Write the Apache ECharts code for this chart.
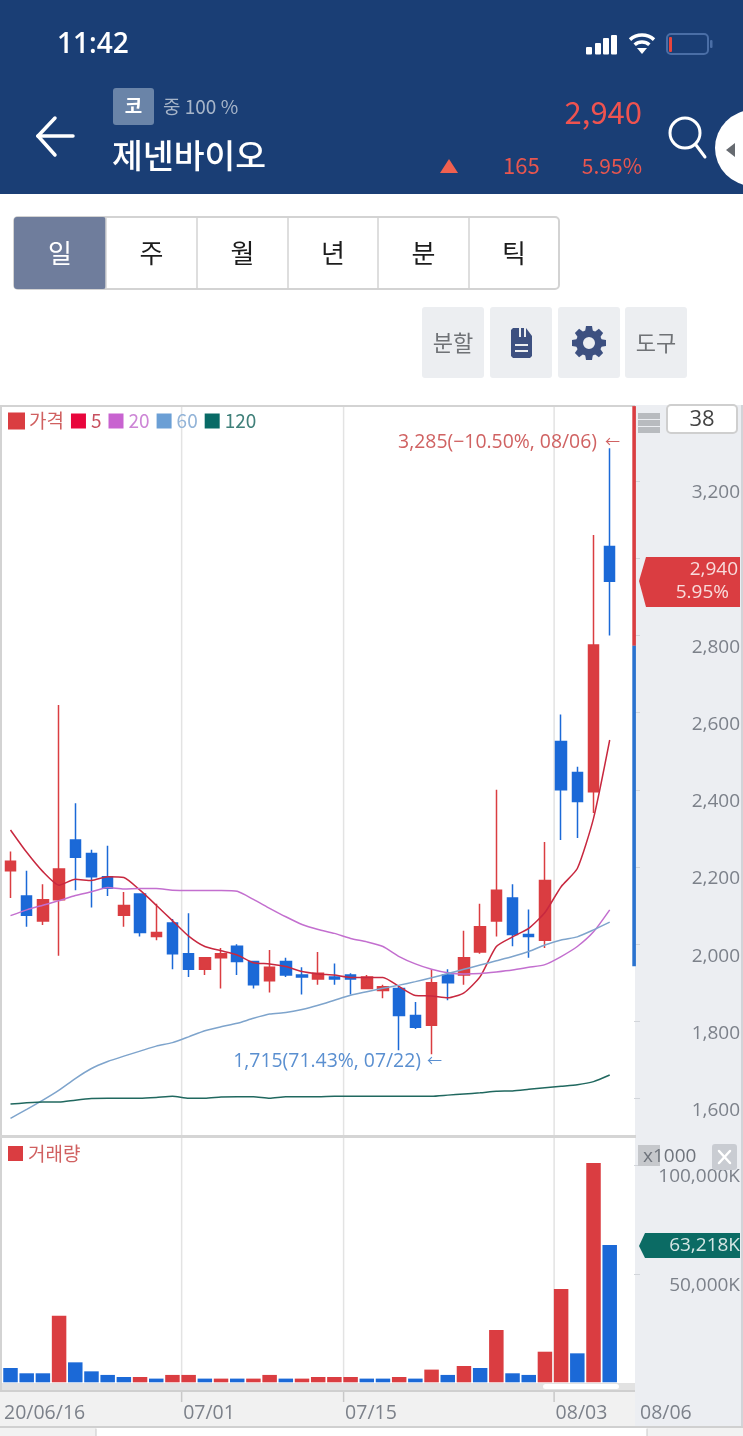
<!DOCTYPE html>
<html>
<head>
<meta charset="utf-8">
<title>제넨바이오</title>
<script src="https://cdn.jsdelivr.net/npm/echarts@6/dist/echarts.min.js"></script>
<style>
html,body{margin:0;padding:0;background:#fff;}
#chart{width:743px;height:1436px;}
</style>
</head>
<body>
<div id="chart"></div>
<script>
// last slot is empty, the app keeps a gap right of the newest candle
var categories = ['06/16','06/17','06/18','06/19','06/22','06/23','06/24','06/25','06/26','06/29','06/30',
	'07/01','07/02','07/03','07/06','07/07','07/08','07/09','07/10','07/13','07/14',
	'07/15','07/16','07/17','07/20','07/21','07/22','07/23','07/24','07/27','07/28','07/29','07/30','07/31',
	'08/03','08/04','08/05','08/06',''];

var opens  = [2190,2125,2060,2115,2270,2235,2175,2075,2130,2020,2055,1975,1935,1965,1995,1955,1905,1955,1920,1910,
	1915,1920,1885,1880,1885,1815,1790,1920,1920,1980,2060,2120,2025,2010,2525,2445,2395,3030];
var closes = [2215,2075,2115,2195,2225,2175,2145,2100,2030,2030,1975,1935,1965,1975,1955,1895,1940,1920,1915,1925,
	1910,1910,1915,1890,1815,1785,1900,1900,1965,2045,2140,2025,2020,2165,2400,2370,2775,2940];
var lows   = [2120,2045,2050,1970,2140,2095,2125,2045,2020,2010,1935,1915,1920,1885,1920,1885,1875,1915,1870,1895,
	1895,1870,1885,1860,1725,1780,1715,1855,1895,1975,2020,1995,1965,1990,2270,2275,2340,2800];
var highs  = [2240,2190,2155,2620,2365,2245,2255,2135,2130,2105,2065,2080,1965,1990,2000,1955,1985,1965,1940,1980,
	1950,1925,1920,1895,1890,1850,1935,1935,2035,2105,2400,2155,2090,2265,2595,2460,3060,3285];

var ma5   = [2296,2238,2188,2153,2168,2165,2175,2173,2140,2101,2061,2021,1994,1983,1972,1952,1949,1942,1929,1923,
	1920,1914,1914,1914,1890,1867,1866,1861,1874,1916,1994,2019,2041,2082,2149,2196,2326,2529];
var ma20  = [2074,2089,2101,2113,2126,2136,2147,2143,2144,2144,2140,2139,2139,2139,2137,2116,2093,2071,2051,2038,
	2028,2015,2006,1994,1968,1949,1935,1926,1923,1924,1928,1933,1940,1947,1968,1994,2032,2089];
var ma60  = [1549,1572,1596,1622,1652,1678,1696,1710,1723,1736,1745,1760,1776,1786,1795,1808,1819,1823,1831,1842,
	1855,1868,1877,1886,1894,1903,1913,1924,1935,1946,1957,1968,1981,1998,2011,2019,2037,2057];
var ma120 = [1586,1589,1591,1591,1596,1600,1601,1601,1601,1603,1606,1601,1601,1604,1605,1605,1601,1605,1605,1605,
	1606,1606,1606,1606,1606,1606,1606,1609,1612,1615,1619,1620,1624,1628,1632,1636,1644,1661];

var volumes  = [6600,4150,4150,30700,9200,5050,3400,2450,2450,1700,3400,3400,1700,1700,1700,1700,3400,1700,1700,2450,
	2450,2450,1700,1700,2450,1700,5850,3400,7500,6600,24100,4150,3400,14100,43000,13350,101050,63218];
var volumeUp = [0,0,0,1,0,0,0,0,1,0,1,1,0,1,0,1,1,0,1,1,
	1,1,0,0,1,0,1,0,1,0,1,0,0,1,1,0,1,0];

var priceTicks = [1600,1800,2000,2200,2400,2600,2800,3000,3200];
var priceLabelTicks = [1600,1800,2000,2200,2400,2600,2800,3200];
var volumeTicks = [50000,100000];
var dateTickIndex = [0,11,21,34,37];
var dateTickLabels = ['20/06/16','07/01','07/15','08/03','08/06'];
var rangeBars = [[38,3394,2773],[38,2773,1943]];
var tabs = ['일','주','월','년','분','틱'];

var UP = '#da3d41', DOWN = '#1b69d7';
var KR = '"Noto Sans CJK KR","Noto Sans",sans-serif';
var NUM = '"Open Sans","Noto Sans CJK KR",sans-serif';
var AXIS_TEXT = '#7c818a';

function comma(v) {
	return String(v).replace(/\B(?=(\d{3})+$)/g, ',');
}

function box(x, y, w, h, fill, r, z, stroke) {
	return {
		type: 'rect', silent: true, z: z === undefined ? 50 : z,
		shape: {x: x, y: y, width: w, height: h, r: r || 0},
		style: {fill: fill, stroke: stroke || null, lineWidth: stroke ? 2 : 0}
	};
}
function txt(s, x, y, size, color, align, family, weight) {
	return {
		type: 'text', silent: true, z: 51, x: x, y: family === NUM ? y + 2 : y,
		style: {
			text: s, fill: color, fontSize: size, fontFamily: family || KR, fontWeight: weight || 400,
			align: align || 'left', verticalAlign: 'middle', textAlign: align || 'left', textVerticalAlign: 'middle'
		}
	};
}
function line(x1, y1, x2, y2, color, w, z) {
	return {
		type: 'line', silent: true, z: z === undefined ? 50 : z,
		shape: {x1: x1, y1: y1, x2: x2, y2: y2},
		style: {stroke: color, lineWidth: w, lineCap: 'round'}
	};
}
function poly(points, fill, z) {
	return {type: 'polygon', silent: true, z: z === undefined ? 50 : z, shape: {points: points}, style: {fill: fill}};
}
function ring(cx, cy, r, fill, stroke, w, z) {
	return {
		type: 'circle', silent: true, z: z === undefined ? 50 : z,
		shape: {cx: cx, cy: cy, r: r},
		style: {fill: fill, stroke: stroke, lineWidth: w || 0}
	};
}

var els = [];

// header
els.push(box(0, 0, 743, 194, '#1a3e75', 0, -1));
els.push(txt('11:42', 57, 43, 28, '#ffffff', 'left', NUM, 600));
[[586,47],[595,43],[603,38],[611,35]].forEach(function (b) {
	els.push(box(b[0], b[1], 6, 54.5 - b[1], '#ffffff', 1));
});
els.push({type: 'arc', silent: true, z: 50, shape: {cx: 642, cy: 53, r: 18, startAngle: -2.3, endAngle: -0.84}, style: {fill: null, stroke: '#fff', lineWidth: 3.5}});
els.push({type: 'arc', silent: true, z: 50, shape: {cx: 642, cy: 53, r: 11, startAngle: -2.3, endAngle: -0.84}, style: {fill: null, stroke: '#fff', lineWidth: 3.5}});
els.push(poly([[642,54],[637,48],[647,48]], '#ffffff'));
els.push(box(667, 34, 41, 20, 'rgba(0,0,0,0)', 4, 50, '#4a6ea6'));
els.push(box(669, 37, 3, 15, '#e8453c', 1));
els.push(box(710, 40, 2.5, 8, '#4a6ea6', 1));

els.push(line(38, 136, 73, 136, '#fff', 3.5));
els.push(line(38, 136, 55, 118, '#fff', 3.5));
els.push(line(38, 136, 55, 155, '#fff', 3.5));
els.push(box(113, 88, 41, 37, '#6a84a8', 3));
els.push(txt('코', 133.5, 106, 19, '#ffffff', 'center', KR, 700));
els.push(txt('중 100 %', 163, 107, 19, '#a7b5c9'));
els.push(txt('제넨바이오', 112, 155, 33.5, '#ffffff', 'left', KR, 500));
els.push(txt('2,940', 642, 112, 31, '#ef5350', 'right'));
els.push(poly([[449,159],[458,173],[440,173]], '#f0604f'));
els.push(txt('165', 503, 166, 22, '#e8564f'));
els.push(txt('5.95%', 642, 166, 21, '#e8564f', 'right'));
els.push(ring(685, 133, 15, null, '#fff', 3));
els.push(line(696, 145, 705, 157, '#fff', 3));
els.push(ring(753, 148, 38, '#ffffff', null, 0));
els.push(poly([[726,150],[735,143],[735,157]], '#666a70', 52));

// period tabs
var tabEdges = [14,106,197,288,378,469,559];
els.push(box(14, 217, 545, 72, '#ffffff', 4, -1, '#d3d3d3'));
els.push(box(14, 217, 92, 72, '#6f7d9c', 3, 0));
tabs.forEach(function (t, i) {
	if (i > 0) els.push(line(tabEdges[i], 218, tabEdges[i], 288, '#d3d3d3', 1.5));
	els.push(txt(t, (tabEdges[i] + tabEdges[i + 1]) / 2, 253, 26, i === 0 ? '#ffffff' : '#1c1c1c', 'center'));
});

// tool buttons
[422,490,558,625].forEach(function (x) {
	els.push(box(x, 307, 62, 71, '#eceef1', 3, 0));
});
els.push(txt('분할', 453, 343, 22, '#6f7276', 'center'));
els.push(txt('도구', 656, 343, 22, '#6f7276', 'center'));
els.push(poly([[511,330],[513,328],[526,328],[532,336],[532,356],[530,358],[513,358],[511,356]], '#3d5080'));
els.push(box(519, 328, 2, 9, '#eceef1', 0, 51));
els.push(box(524, 328, 2, 9, '#eceef1', 0, 51));
els.push(box(515, 344, 13, 2, '#eceef1', 0, 51));
els.push(box(515, 350, 13, 2, '#eceef1', 0, 51));
// gear teeth
for (var t = 0; t < 8; t++) {
	var a = t * Math.PI / 4, ca = Math.cos(a), sa = Math.sin(a);
	var pts = [[-4,11],[4,11],[3,17],[-3,17]].map(function (p) {
		return [589 + p[0] * ca - p[1] * sa, 343 + p[0] * sa + p[1] * ca];
	});
	els.push(poly(pts, '#3d5080'));
}
els.push(ring(589, 343, 9.5, null, '#3d5080', 7));

// chart frame
els.push(box(0, 405, 636, 2, '#d3d3d3', 0, -1));
els.push(box(0, 405, 2, 1023, '#d3d3d3', 0, -1));
els.push(box(635, 405, 108, 1021, '#eceef2', 0, -1));
els.push(box(741, 405, 2, 1021, '#d2d4d8', 0, -1));
els.push(box(0, 1135, 636, 3, '#d5d5d5', 0, -1));
els.push(box(2, 1383, 633, 7, '#e2e2e2', 0, -1));
els.push(box(543, 1384, 76, 5, '#ffffff', 2.5, 0));
els.push(box(0, 1392, 635, 34, '#f1f1f1', 0, -1));
els.push(box(0, 1390, 635, 2, '#cfcfcf', 0, -1));
els.push(box(0, 1426, 743, 2, '#d0d0d0', 0, -1));
els.push(box(0, 1428, 96, 8, '#f2f2f2', 0, -1));
els.push(box(647, 1428, 96, 8, '#f2f2f2', 0, -1));
els.push(line(96, 1429, 96, 1436, '#c8c8c8', 1, -1));
els.push(line(647, 1429, 647, 1436, '#c8c8c8', 1, -1));

// panel controls
[413,420,427].forEach(function (y) {
	els.push(box(638, y, 22, 6, '#b8bbbf', 0));
});
els.push(box(667, 405, 70, 28, '#ffffff', 4, 50, '#cfcfcf'));
els.push(txt('38', 702, 418, 22, '#444444', 'center', NUM));
els.push(box(638, 1145, 22, 21, '#c6c8cc', 0));
els.push(txt('x1000', 643, 1155, 19, '#6f747c', 'left', NUM));
els.push(box(712, 1144, 25, 26, '#c9ccd2', 3));
els.push(line(719, 1151, 730, 1163, '#fff', 2.5));
els.push(line(730, 1151, 719, 1163, '#fff', 2.5));

// last price and last volume tags
els.push(poly([[639,581],[646,557],[740,557],[740,607],[646,607]], UP));
els.push(txt('2,940', 738, 568, 19, '#f8dcdc', 'right', NUM));
els.push(txt('5.95%', 729, 591, 19, '#f8dcdc', 'right', NUM));
els.push(poly([[639,1246],[645,1233],[740,1233],[740,1258],[645,1258]], '#0b6b64'));
els.push(txt('63,218K', 740, 1244, 19, '#d5e6e4', 'right', NUM));

// high and low notes
els.push(txt('3,285(−10.50%, 08/06)', 597, 440, 19.4, '#d06262', 'right', NUM));
els.push(txt('←', 620, 441, 15, '#d06262', 'right'));
els.push(txt('1,715(71.43%, 07/22)', 421, 1059, 19.4, '#5a8fd0', 'right', NUM));
els.push(txt('←', 442, 1060, 15, '#5a8fd0', 'right'));

function renderDateTick(params, api) {
	var idx = api.value(0);
	var pt = api.coord([idx, 0]);
	var x = pt[0] - 7;
	var isFirst = params.dataIndex === 0;
	var isLast = params.dataIndex === dateTickIndex.length - 1;
	var children = [];
	var gridStyle = {stroke: '#e3e3e3', lineWidth: 1.5};
	if (!isFirst && !isLast) {
		children.push({type: 'line', shape: {x1: x, y1: 407, x2: x, y2: 1135}, style: gridStyle});
		children.push({type: 'line', shape: {x1: x, y1: 1138, x2: x, y2: pt[1]}, style: gridStyle});
		children.push({type: 'line', shape: {x1: x, y1: 1392, x2: x, y2: 1402}, style: {stroke: '#c8c8c8', lineWidth: 1.5}});
	}
	children.push({
		type: 'text',
		x: isLast ? 640 : isFirst ? 4 : x + 1.5,
		y: 1413,
		style: {
			text: dateTickLabels[params.dataIndex], fill: AXIS_TEXT, fontSize: 19.5, fontFamily: NUM,
			align: 'left', verticalAlign: 'middle', textAlign: 'left', textVerticalAlign: 'middle'
		}
	});
	return {type: 'group', children: children};
}

function renderRange(params, api) {
	var a = api.coord([api.value(0), api.value(1)]);
	var b = api.coord([api.value(0), api.value(2)]);
	return {
		type: 'rect',
		shape: {x: a[0] + 6.4, y: a[1], width: 3.6, height: b[1] - a[1]},
		style: {fill: params.dataIndex === 0 ? UP : '#2a72cf'}
	};
}

var chart = echarts.init(document.getElementById('chart'), null, {renderer: 'canvas'});

function maSeries(name, data, color) {
	return {
		name: name, type: 'line', data: data, xAxisIndex: 0, yAxisIndex: 0, z: 3,
		smooth: 0.2, showSymbol: false, silent: true,
		lineStyle: {color: color, width: 1.5}, itemStyle: {color: color}
	};
}

var option = {
	animation: false,
	backgroundColor: '#ffffff',
	graphic: {elements: els},
	legend: [{
		left: 3, top: 406.5, icon: 'rect', itemWidth: 15, itemHeight: 15, itemGap: 7, selectedMode: false,
		textStyle: {fontSize: 19, fontFamily: KR},
		data: [
			{name: '가격', itemStyle: {color: UP}, textStyle: {color: '#d06060'}},
			{name: '5', itemStyle: {color: '#e8063c'}, textStyle: {color: '#c8505f'}},
			{name: '20', itemStyle: {color: '#c863d0'}, textStyle: {color: '#cd86d6'}},
			{name: '60', itemStyle: {color: '#6b9fd5'}, textStyle: {color: '#93b4d8'}},
			{name: '120', itemStyle: {color: '#086a66'}, textStyle: {color: '#40807a'}}
		]
	}, {
		left: 3, top: 1139, icon: 'rect', itemWidth: 15, itemHeight: 15, selectedMode: false,
		textStyle: {fontSize: 19, fontFamily: KR},
		data: [{name: '거래량', itemStyle: {color: UP}, textStyle: {color: '#d06060'}}]
	}],
	grid: [
		{left: 2.4, top: 406, width: 632.6, height: 729},
		{left: 2.4, top: 1138, width: 632.6, height: 244.3}
	],
	xAxis: [0, 1].map(function (i) {
		return {
			type: 'category', gridIndex: i, data: categories, boundaryGap: true,
			axisLine: {show: false}, axisTick: {show: false}, axisLabel: {show: false}, splitLine: {show: false}
		};
	}),
	yAxis: [{
		type: 'value', gridIndex: 0, position: 'right', min: 1505.7, max: 3394.3,
		axisLine: {show: false}, splitLine: {show: false},
		axisTick: {show: true, length: 6, lineStyle: {color: '#d2d5da'}, customValues: priceTicks},
		axisLabel: {
			show: true, customValues: priceLabelTicks, color: AXIS_TEXT, fontSize: 19, fontFamily: NUM,
			align: 'right', verticalAlign: 'top', lineHeight: 24, margin: 106, formatter: comma
		}
	}, {
		type: 'value', gridIndex: 1, position: 'right', min: 0, max: 112580,
		axisLine: {show: false}, splitLine: {show: false},
		axisTick: {show: true, length: 6, lineStyle: {color: '#d2d5da'}, customValues: volumeTicks},
		axisLabel: {
			show: true, customValues: volumeTicks, color: AXIS_TEXT, fontSize: 19, fontFamily: NUM,
			align: 'right', verticalAlign: 'top', lineHeight: 23, margin: 106,
			formatter: function (v) { return comma(v) + 'K'; }
		}
	}],
	series: [{
		name: 'dates', type: 'custom', coordinateSystem: 'cartesian2d', xAxisIndex: 1, yAxisIndex: 1, z: 1,
		silent: true, renderItem: renderDateTick, encode: {x: 0, y: 1},
		data: dateTickIndex.map(function (i) { return [i, 0]; })
	}, {
		name: 'range', type: 'custom', coordinateSystem: 'cartesian2d', xAxisIndex: 0, yAxisIndex: 0, z: 6,
		silent: true, renderItem: renderRange, encode: {x: 0, y: [1, 2]}, data: rangeBars
	}, {
		name: '가격', type: 'candlestick', xAxisIndex: 0, yAxisIndex: 0, z: 2, barWidth: 11, silent: true,
		itemStyle: {color: UP, color0: DOWN, borderColor: UP, borderColor0: DOWN, borderWidth: 1.5},
		data: opens.map(function (o, i) { return [o, closes[i], lows[i], highs[i]]; })
	},
	maSeries('5', ma5, '#c8283f'),
	maSeries('20', ma20, '#c36fcf'),
	maSeries('60', ma60, '#7ea4cc'),
	maSeries('120', ma120, '#20685f'),
	{
		name: '거래량', type: 'bar', xAxisIndex: 1, yAxisIndex: 1, z: 2, barWidth: 14.5, silent: true,
		data: volumes.map(function (v, i) {
			return {value: v, itemStyle: {color: volumeUp[i] ? UP : DOWN}};
		})
	}]
};

chart.setOption(option);
window.addEventListener('resize', chart.resize);
</script>
</body>
</html>
